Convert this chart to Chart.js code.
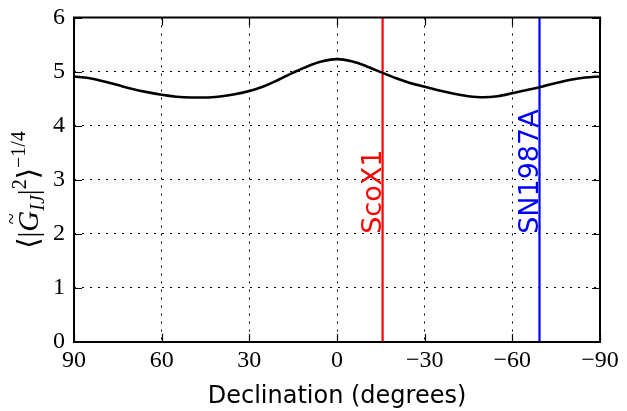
<!DOCTYPE html>
<html>
<head>
<meta charset="utf-8">
<script src="https://cdn.jsdelivr.net/npm/chart.js@4"></script>
<style>
  html, body { margin: 0; padding: 0; background: #ffffff; }
  #wrap { width: 627px; height: 411px; }
</style>
</head>
<body>
<div id="wrap"><canvas id="c" width="627" height="411"></canvas></div>
<script>
// ---- data ----
const declination = [90, 85, 80, 75, 70, 65, 60, 55, 50, 45, 40, 35, 30, 25, 20, 15, 10, 5, 0,
                     -5, -10, -15, -20, -25, -30, -35, -40, -45, -50, -55, -60, -65, -70, -75, -80, -85, -90];
const sensitivity = [4.91, 4.88, 4.82, 4.75, 4.68, 4.62, 4.57, 4.535, 4.52, 4.52, 4.54, 4.58, 4.64, 4.73, 4.85, 4.98, 5.10, 5.19, 5.23,
                     5.19, 5.10, 4.99, 4.88, 4.79, 4.72, 4.65, 4.59, 4.545, 4.525, 4.545, 4.60, 4.66, 4.72, 4.79, 4.85, 4.89, 4.91];
const sourceNames = ['ScoX1', 'SN1987A'];
const sourceDecl = [-15.6, -69.3];
const sourceColors = ['#ff0000', '#0000ff'];
const xTicks = [90, 60, 30, 0, -30, -60, -90];
const xTickLabels = ['90', '60', '30', '0', '\u221230', '\u221260', '\u221290'];
const yTicks = [0, 1, 2, 3, 4, 5, 6];
const yTickLabels = ['0', '1', '2', '3', '4', '5', '6'];
const xTitle = 'Declination (degrees)';

const SERIF = '"Liberation Serif", "DejaVu Serif", serif';
const SANS = '"DejaVu Sans", "Liberation Sans", sans-serif';

const datasets = [{
  data: declination.map((d, i) => ({ x: d, y: sensitivity[i] })),
  borderColor: '#000000',
  borderWidth: 2.6,
  pointRadius: 0,
  showLine: true,
  cubicInterpolationMode: 'monotone',
  fill: false
}];
sourceNames.forEach((n, i) => {
  datasets.push({
    data: [{ x: sourceDecl[i], y: yTicks[0] }, { x: sourceDecl[i], y: yTicks[yTicks.length - 1] }],
    borderColor: sourceColors[i],
    borderWidth: 2.2,
    pointRadius: 0,
    showLine: true,
    tension: 0,
    fill: false
  });
});

const framePlugin = {
  id: 'frame',
  afterDatasetsDraw(chart) {
    const ctx = chart.ctx, a = chart.chartArea;
    const xs = chart.scales.x, ys = chart.scales.y;
    ctx.save();
    // source labels
    ctx.font = '27px ' + SANS;
    ctx.textAlign = 'left';
    ctx.textBaseline = 'alphabetic';
    sourceNames.forEach((n, i) => {
      const px = xs.getPixelForValue(sourceDecl[i]);
      const py = ys.getPixelForValue(2.0);
      ctx.save();
      ctx.translate(px - 2, py);
      ctx.rotate(-Math.PI / 2);
      ctx.fillStyle = sourceColors[i];
      ctx.fillText(n, 0, 0);
      ctx.restore();
    });
    // inward ticks
    ctx.strokeStyle = '#000000';
    ctx.lineWidth = 1.2;
    const L = 8;
    ctx.beginPath();
    xTicks.forEach(v => {
      const px = Math.round(xs.getPixelForValue(v)) + 0.5;
      ctx.moveTo(px, a.bottom); ctx.lineTo(px, a.bottom - L);
      ctx.moveTo(px, a.top); ctx.lineTo(px, a.top + L);
    });
    yTicks.forEach(v => {
      const py = Math.round(ys.getPixelForValue(v)) + 0.5;
      ctx.moveTo(a.left, py); ctx.lineTo(a.left + L, py);
      ctx.moveTo(a.right, py); ctx.lineTo(a.right - L, py);
    });
    ctx.stroke();
    // frame
    ctx.lineWidth = 2;
    ctx.strokeRect(a.left, a.top, a.right - a.left, a.bottom - a.top);
    ctx.restore();
  },
  afterDraw(chart) {
    const ctx = chart.ctx;
    const parts = [
      { t: '\u27E8|', f: '29px ' + SERIF, dy: 0 },
      { t: 'G', f: 'italic 29px ' + SERIF, dy: 0, tilde: true },
      { t: 'IJ', f: 'italic 20px ' + SERIF, dy: 6 },
      { t: '|', f: '29px ' + SERIF, dy: 0 },
      { t: '2', f: '20px ' + SERIF, dy: -12 },
      { t: '\u27E9', f: '29px ' + SERIF, dy: 0 },
      { t: '\u22121/4', f: '20px ' + SERIF, dy: -13 }
    ];
    ctx.save();
    let total = 0;
    parts.forEach(p => { ctx.font = p.f; p.w = ctx.measureText(p.t).width; total += p.w; });
    ctx.translate(38, 190);
    ctx.rotate(-Math.PI / 2);
    ctx.fillStyle = '#000000';
    ctx.textBaseline = 'alphabetic';
    ctx.textAlign = 'left';
    let x = -total / 2;
    parts.forEach(p => {
      ctx.font = p.f;
      ctx.fillText(p.t, x, p.dy);
      if (p.tilde) {
        ctx.font = '20px ' + SERIF;
        ctx.fillText('~', x + p.w / 2 - 3, -20);
      }
      x += p.w;
    });
    ctx.restore();
  }
};

new Chart(document.getElementById('c'), {
  type: 'scatter',
  data: { datasets },
  plugins: [framePlugin],
  options: {
    responsive: false,
    animation: false,
    devicePixelRatio: 1,
    layout: { padding: { top: 17.5, right: 27, left: 0, bottom: 0 } },
    plugins: { legend: { display: false }, tooltip: { enabled: false } },
    scales: {
      x: {
        type: 'linear',
        reverse: true,
        min: -90, max: 90,
        afterBuildTicks: s => { s.ticks = xTicks.map(v => ({ value: v })); },
        afterFit: s => { s.height = 69; s.paddingLeft = 0; s.paddingRight = 0; },
        ticks: {
          autoSkip: false,
          maxRotation: 0,
          padding: 4,
          color: '#000000',
          font: { family: SERIF, size: 24 },
          callback: v => xTickLabels[xTicks.indexOf(v)]
        },
        grid: { color: '#000000', lineWidth: 1, drawTicks: false },
        border: { display: false, dash: [2, 6] },
        title: { display: true, text: xTitle, color: '#000000', font: { family: SANS, size: 24 }, padding: { top: 2, bottom: 0 } }
      },
      y: {
        type: 'linear',
        min: 0, max: 6,
        afterBuildTicks: s => { s.ticks = yTicks.map(v => ({ value: v })); },
        afterFit: s => { s.width = 74; s.paddingTop = 0; s.paddingBottom = 0; },
        ticks: {
          padding: 9,
          color: '#000000',
          font: { family: SERIF, size: 24 },
          callback: v => yTickLabels[yTicks.indexOf(v)]
        },
        grid: { color: '#000000', lineWidth: 1, drawTicks: false },
        border: { display: false, dash: [2, 6] }
      }
    }
  }
});
</script>
</body>
</html>
